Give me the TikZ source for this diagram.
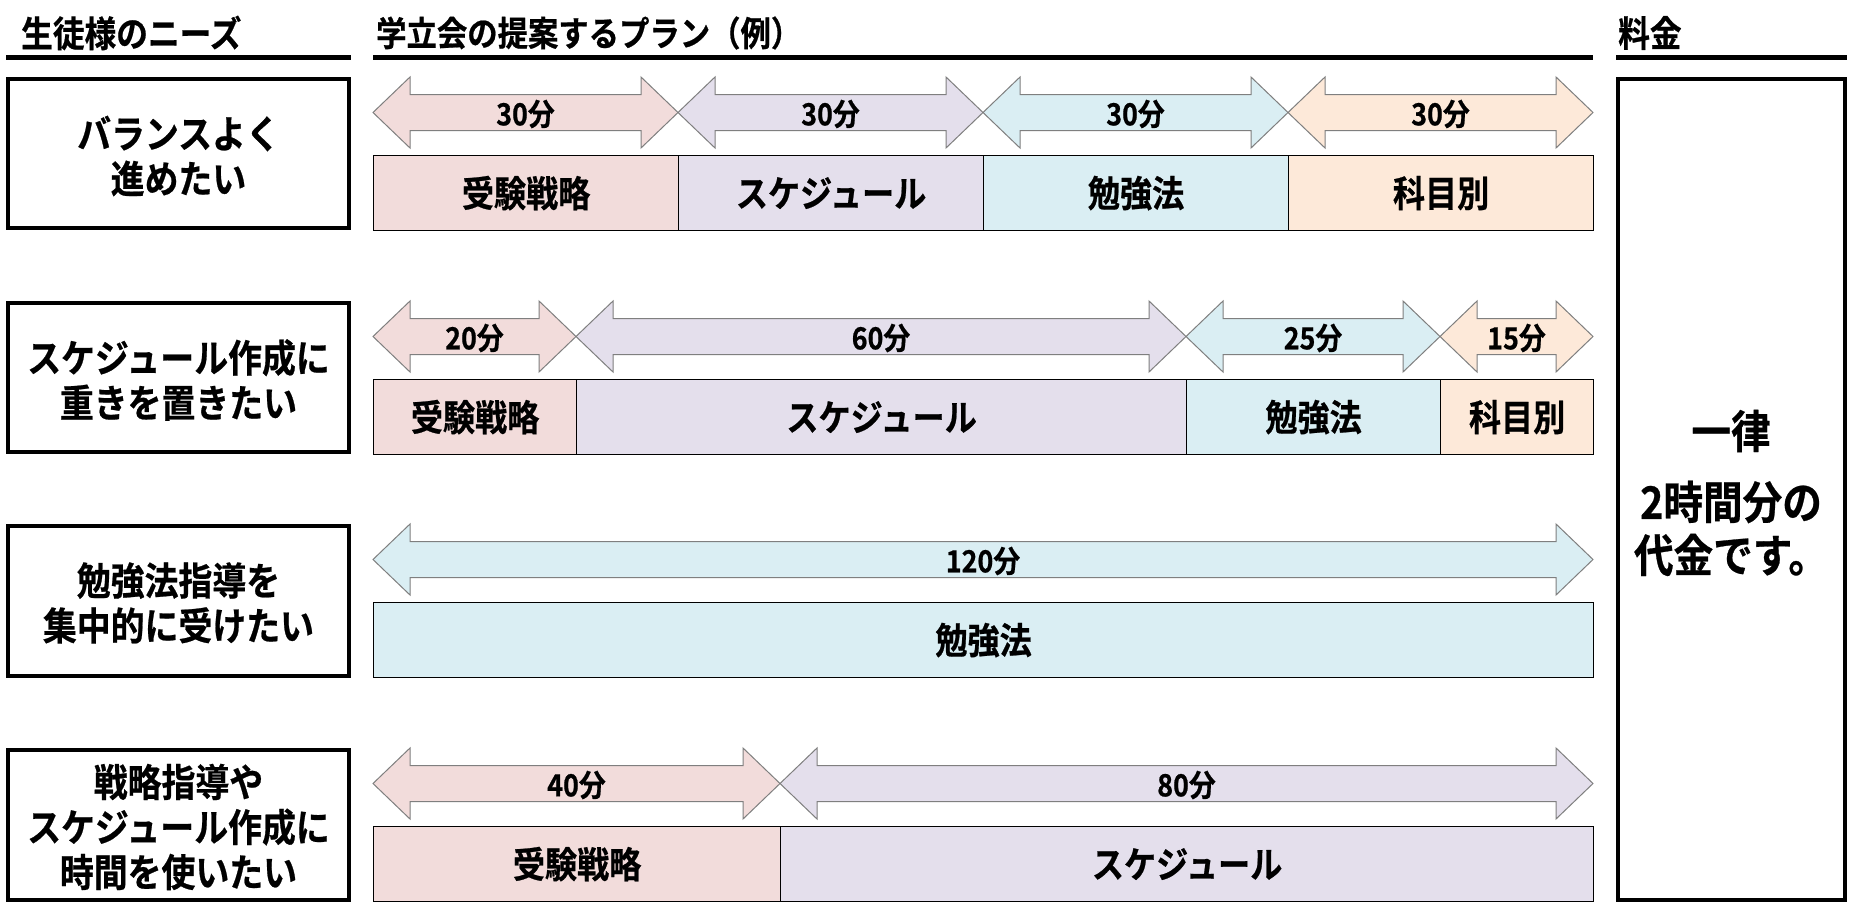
\documentclass[tikz,border=0pt]{standalone}
\usepackage{fontspec}
\setmainfont{Noto Sans CJK JP}
\newfontfamily\jpb{Noto Sans CJK JP Bold}[FakeStretch=0.88, FakeBold=0.6]
\definecolor{cA}{HTML}{F2DCDB}
\definecolor{cB}{HTML}{E4DFEC}
\definecolor{cC}{HTML}{DAEEF3}
\definecolor{cD}{HTML}{FDE9D9}
\definecolor{arrgray}{HTML}{7F7F7F}
\tikzset{
  needbox/.style={draw=black, line width=3.5pt, fill=white},
  barbox/.style={draw=black, line width=1.2pt, inner sep=0pt, minimum height=75pt,
    font=\jpb\fontsize{36.5}{40}\selectfont},
  arrowshape/.style={draw=arrgray, line width=1pt},
  arrowlabel/.style={inner sep=0pt, font=\jpb\fontsize{30.5}{34}\selectfont},
  hdr/.style={anchor=west, inner sep=0pt, font=\jpb\fontsize{36}{40}\selectfont},
  hdrline/.style={line width=5pt},
  needtext/.style={align=center, inner sep=0pt, font=\jpb\fontsize{38.5}{45}\selectfont},
  feetext/.style={inner sep=0pt, font=\jpb\fontsize{45}{50}\selectfont},
}
\newcommand\planseg[7]{%
  \draw[arrowshape, fill=#5] (#2,#4+35.5) -- (#2+37,#4) -- (#2+37,#4+17.5) -- (#3-37,#4+17.5)
    -- (#3-37,#4) -- (#3,#4+35.5) -- (#3-37,#4+71) -- (#3-37,#4+53.5) -- (#2+37,#4+53.5)
    -- (#2+37,#4+71) -- cycle;
  \node[arrowlabel] (#1t) at ({(#2+#3)/2},#4+37) {#7};
  \node[barbox, fill=#5, minimum width={#3-#2}, anchor=north west] (#1) at (#2,#4+78) {#6};
}
\begin{document}
\begin{tikzpicture}[x=1pt,y=-1pt]
\useasboundingbox[fill=white] (0,0) rectangle (1852,916);
% headers
\node[hdr] (h1) at (21,33) {生徒様のニーズ};
\node[hdr, font=\jpb\fontsize{34.5}{40}\selectfont] (h2) at (376,33) {学立会の提案するプラン（例）};
\node[hdr] (h3) at (1618,33) {料金};
\coordinate (u1a) at (6,57); \coordinate (u1b) at (351,57);
\coordinate (u2a) at (373,57); \coordinate (u2b) at (1593,57);
\coordinate (u3a) at (1616,57); \coordinate (u3b) at (1847,57);
\draw[hdrline] (u1a) -- (u1b);
\draw[hdrline] (u2a) -- (u2b);
\draw[hdrline] (u3a) -- (u3b);
% needs boxes
\draw[needbox] (8,79) rectangle (349,228);
\node[needtext] (n1) at (178.5,156) {バランスよく\\進めたい};
\draw[needbox] (8,303) rectangle (349,452);
\node[needtext] (n2) at (178.5,380) {スケジュール作成に\\重きを置きたい};
\draw[needbox] (8,526) rectangle (349,676);
\node[needtext] (n3) at (178.5,603) {勉強法指導を\\集中的に受けたい};
\draw[needbox] (8,750) rectangle (349,900);
\node[needtext] (n4) at (178.5,827) {戦略指導や\\スケジュール作成に\\時間を使いたい};
% plans
\planseg{r1a}{373}{678}{77}{cA}{受験戦略}{30分}
\planseg{r1b}{678}{983}{77}{cB}{スケジュール}{30分}
\planseg{r1c}{983}{1288}{77}{cC}{勉強法}{30分}
\planseg{r1d}{1288}{1593}{77}{cD}{科目別}{30分}
\planseg{r2a}{373}{576}{301}{cA}{受験戦略}{20分}
\planseg{r2b}{576}{1186}{301}{cB}{スケジュール}{60分}
\planseg{r2c}{1186}{1440}{301}{cC}{勉強法}{25分}
\planseg{r2d}{1440}{1593}{301}{cD}{科目別}{15分}
\planseg{r3a}{373}{1593}{524}{cC}{勉強法}{120分}
\planseg{r4a}{373}{780}{748}{cA}{受験戦略}{40分}
\planseg{r4b}{780}{1593}{748}{cB}{スケジュール}{80分}
% fee box
\draw[needbox] (1618,79) rectangle (1845,900);
\node[feetext] (f1) at (1731,431) {一律};
\node[feetext] (f2) at (1731,502) {2時間分の};
\node[feetext] (f3) at (1731,555) {代金です。};
\end{tikzpicture}
\end{document}
